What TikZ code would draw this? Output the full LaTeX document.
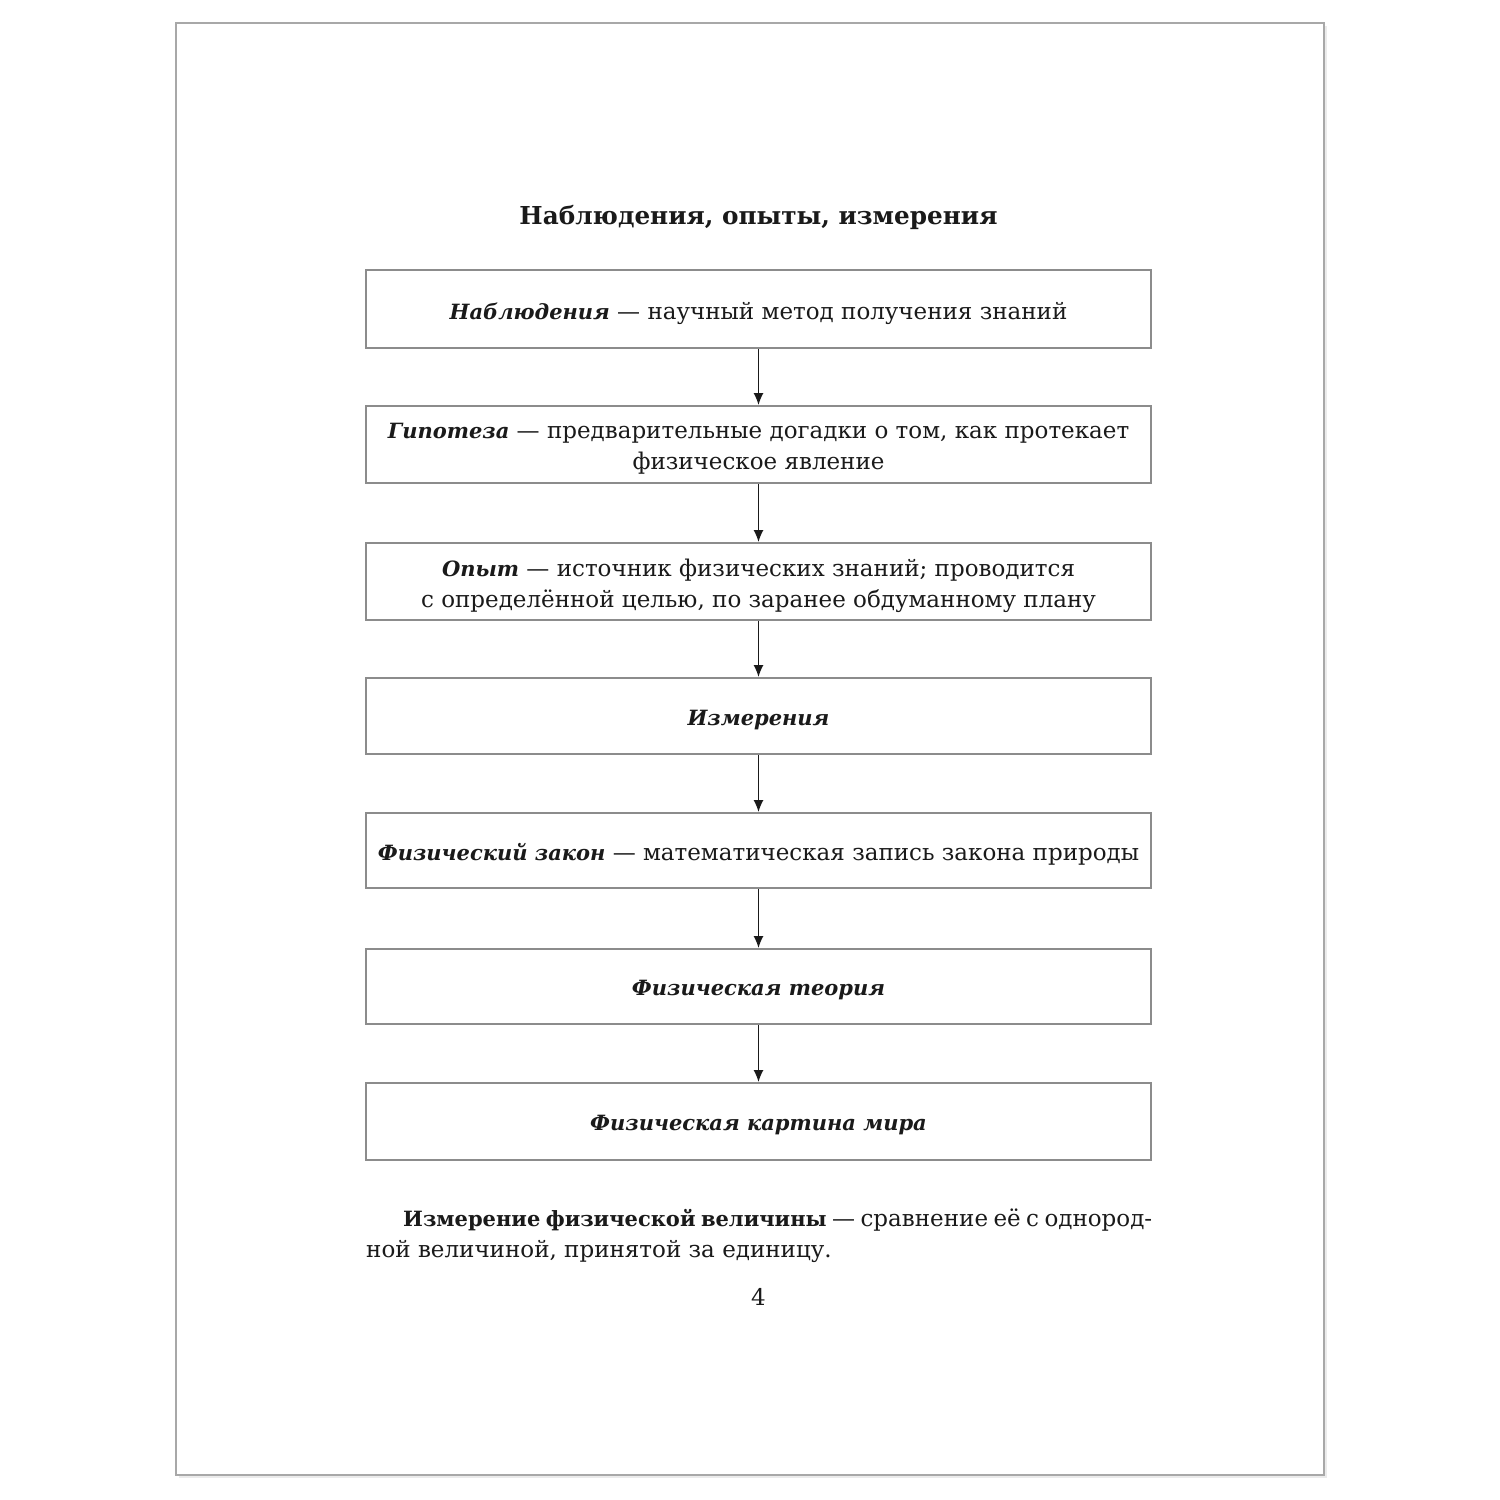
\documentclass[tikz,border=0pt]{standalone}
\usepackage{fontspec}
\setmainfont{DejaVu Serif}
\usetikzlibrary{arrows.meta}
\definecolor{ink}{HTML}{1A1A1A}
\definecolor{boxline}{HTML}{8C8C8C}
\definecolor{pageline}{HTML}{A8A8A8}
\newcommand{\trm}[1]{{\fontsize{21}{31}\selectfont\bfseries\itshape #1}}
\begin{document}
\begin{tikzpicture}[x=1pt,y=-1pt,
  stepbox/.style={draw=boxline,line width=2pt,minimum width=785pt,inner sep=0pt},
  boxtext/.style={align=center,text=ink,font=\fontsize{23}{31}\selectfont,yshift=-4pt,inner sep=0pt},
  flow/.style={draw=ink,line width=1.2pt,-{Latex[length=12pt,width=10pt]}},
  para/.style={inner sep=0pt,text=ink,font=\fontsize{23}{31}\selectfont}]
\useasboundingbox (0,0) rectangle (1500,1500);
\fill[white] (0,0) rectangle (1500,1500);
% page
\fill[black!8] (179,26) rectangle (1327,1478);
\draw[pageline,line width=2.5pt,fill=white] (176,23) rectangle (1324,1475);
% title
\node[text=ink,font=\fontsize{24.7}{30}\selectfont\bfseries] (title) at (758.5,217) {Наблюдения, опыты, измерения};
% boxes
\node[stepbox,minimum height=78pt,label={[boxtext]center:\trm{Наблюдения} — научный метод получения знаний}] (b1) at (758.5,309) {};
\node[stepbox,minimum height=77pt,label={[boxtext]center:\trm{Гипотеза} — предварительные догадки о том, как протекает\\физическое явление}] (b2) at (758.5,444.5) {};
\node[stepbox,minimum height=77pt,label={[boxtext]center:\trm{Опыт} — источник физических знаний; проводится\\с определённой целью, по заранее обдуманному плану}] (b3) at (758.5,581.5) {};
\node[stepbox,minimum height=76pt,label={[boxtext]center:\trm{Измерения}}] (b4) at (758.5,716) {};
\node[stepbox,minimum height=75pt,label={[boxtext]center:\trm{Физический закон} — математическая запись закона природы}] (b5) at (758.5,850.5) {};
\node[stepbox,minimum height=75pt,label={[boxtext]center:\trm{Физическая теория}}] (b6) at (758.5,986.5) {};
\node[stepbox,minimum height=77pt,label={[boxtext]center:\trm{Физическая картина мира}}] (b7) at (758.5,1121.5) {};
% arrows
\draw[flow] (b1) -- (b2);
\draw[flow] (b2) -- (b3);
\draw[flow] (b3) -- (b4);
\draw[flow] (b4) -- (b5);
\draw[flow] (b5) -- (b6);
\draw[flow] (b6) -- (b7);
% paragraph
\node[para,anchor=base west] (p1) at (403,1226) {\makebox[749pt][s]{{\fontsize{21}{31}\selectfont\bfseries Измерение физической величины} — сравнение её с однород-}};
\node[para,anchor=base west] (p2) at (366,1257) {ной величиной, принятой за единицу.};
\node[para,anchor=base] (pg) at (758.5,1305) {4};
\end{tikzpicture}
\end{document}
